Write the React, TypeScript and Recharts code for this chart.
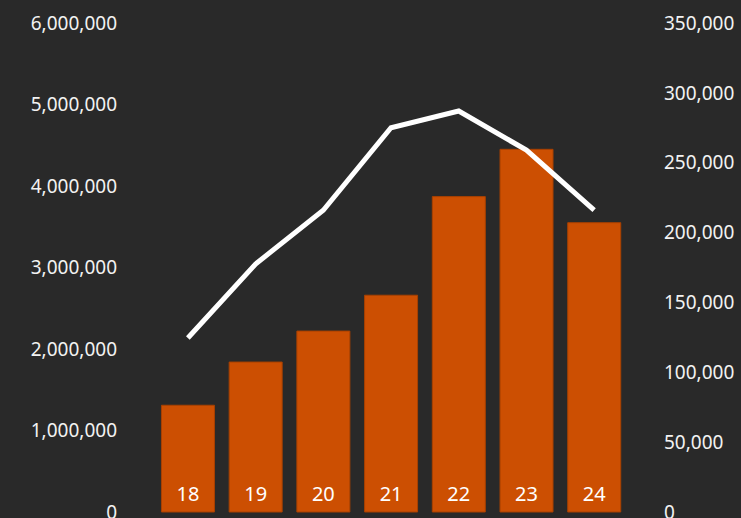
import React from "react";
import {
  ComposedChart,
  Bar,
  Line,
  XAxis,
  YAxis,
  LabelList,
} from "recharts";

const categories = ["18", "19", "20", "21", "22", "23", "24"];
const barValues = [1310000, 1840000, 2220000, 2660000, 3870000, 4450000, 3550000];
const lineValues = [124500, 177500, 216000, 275000, 287000, 259000, 216000];
const leftTicks = [0, 1000000, 2000000, 3000000, 4000000, 5000000, 6000000];
const rightTicks = [0, 50000, 100000, 150000, 200000, 250000, 300000, 350000];

const data = categories.map((name, i) => ({
  name,
  bar: barValues[i],
  line: lineValues[i],
}));

const BG = "#292929";
const ORANGE = "#cc4f02";
const TEXT = "#f2f2f2";
const FONT = "'Noto Sans', 'Open Sans', sans-serif";

const fmt = (v: number) => v.toLocaleString("en-US");

export default function App() {
  return (
    <div
      style={{
        position: "fixed",
        left: 0,
        top: 0,
        width: 741,
        height: 518,
        background: BG,
        fontFamily: FONT,
      }}
    >
      <ComposedChart
        width={741}
        height={518}
        data={data}
        margin={{ top: 23, right: 0, left: 0, bottom: 6 }}
        barCategoryGap="11%"
      >
        <XAxis dataKey="name" hide />
        <YAxis
          yAxisId="left"
          orientation="left"
          width={154}
          domain={[0, 6000000]}
          ticks={leftTicks}
          tickFormatter={fmt}
          axisLine={false}
          tickLine={false}
          tickMargin={31}
          tick={{ fill: TEXT, fontSize: 19, fontFamily: FONT }}
          interval={0}
        />
        <YAxis
          yAxisId="right"
          orientation="right"
          width={113}
          domain={[0, 350000]}
          ticks={rightTicks}
          tickFormatter={fmt}
          axisLine={false}
          tickLine={false}
          tickMargin={30}
          tick={{ fill: TEXT, fontSize: 19, fontFamily: FONT, textAnchor: "start" }}
          interval={0}
        />
        <Bar
          yAxisId="left"
          dataKey="bar"
          fill={ORANGE}
          stroke="#a84000"
          strokeWidth={1}
          isAnimationActive={false}
        >
          <LabelList
            dataKey="name"
            position="insideBottom"
            offset={11}
            fill="#ffffff"
            fontSize={20}
            fontFamily={FONT}
          />
        </Bar>
        <Line
          yAxisId="right"
          dataKey="line"
          type="linear"
          stroke="#ffffff"
          strokeWidth={5}
          dot={false}
          activeDot={false}
          isAnimationActive={false}
        />
      </ComposedChart>
    </div>
  );
}
